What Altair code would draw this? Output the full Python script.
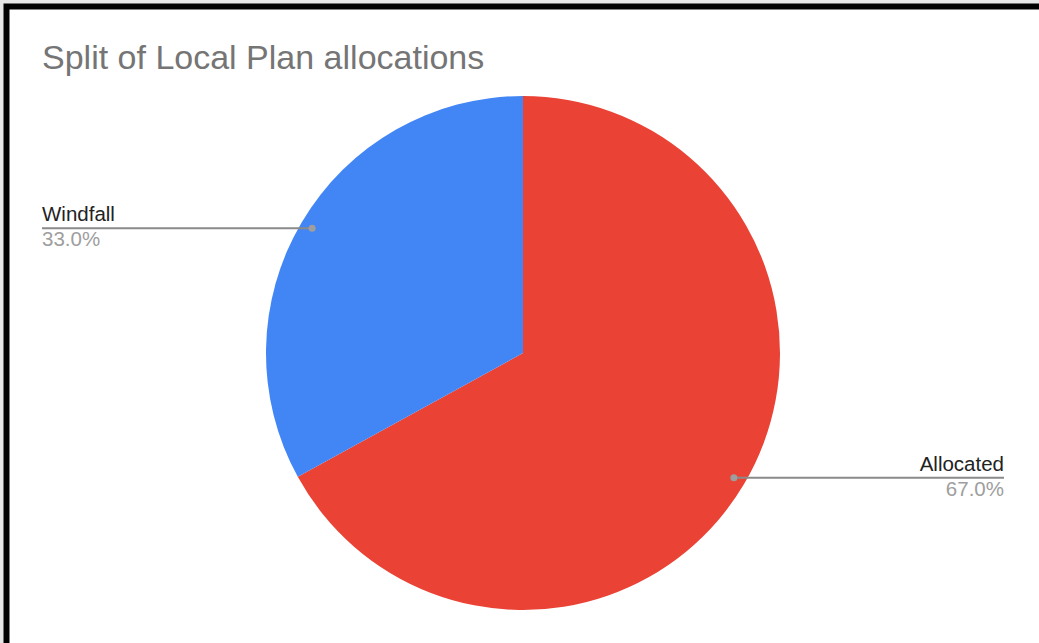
import altair as alt
import pandas as pd

# ---- data ----
labels = ["Allocated", "Windfall"]
values = [67.0, 33.0]
slice_order = [0, 1]
colors = ["#EA4335", "#4285F4"]
title_text = "Split of Local Plan allocations"

df = pd.DataFrame({"label": labels, "value": values, "order": slice_order})

# ---- layout ----
W, H = 1039, 643
CX, CY, R = 523, 353, 257
DOT_R = 245
LEFT_X, RIGHT_X = 42, 1004
FONT = "Liberation Sans"

frame = alt.Chart(pd.DataFrame({"k": [0]})).mark_rect(
    fill="white", stroke="black", strokeWidth=6
).encode(
    x=alt.value(6.5), x2=alt.value(1060), y=alt.value(6.5), y2=alt.value(700)
)

title = alt.Chart(pd.DataFrame({"t": [title_text]})).mark_text(
    align="left", baseline="alphabetic", font=FONT, fontSize=34, color="#757575"
).encode(x=alt.value(42), y=alt.value(69), text="t:N")

pie = alt.Chart(df).mark_arc(radius=R).encode(
    theta=alt.Theta("value:Q", stack=True),
    color=alt.Color("label:N", scale=alt.Scale(domain=labels, range=colors), legend=None),
    order=alt.Order("order:Q"),
    x=alt.value(CX),
    y=alt.value(CY),
)

base = alt.Chart(df).transform_joinaggregate(
    total="sum(value)"
).transform_window(
    cum="sum(value)", sort=[alt.SortField("order")], frame=[None, 0]
).transform_calculate(
    mid="(datum.cum - datum.value / 2) / datum.total * 2 * PI",
).transform_calculate(
    px=f"{CX} + {DOT_R} * sin(datum.mid)",
    py=f"{CY} - {DOT_R} * cos(datum.mid)",
    side="sin(datum.mid) < 0 ? 'left' : 'right'",
    ex=f"sin(datum.mid) < 0 ? {LEFT_X} : {RIGHT_X}",
    pct="format(datum.value / datum.total, '.1%')",
).transform_calculate(
    ty="datum.py - 7",
    py2="datum.py + 18",
)

lines = base.mark_rule(color="#8a8a8a", strokeWidth=2).encode(
    x=alt.X("px:Q", scale=None), x2="ex:Q", y=alt.Y("py:Q", scale=None)
)
dots = base.mark_circle(size=50, color="#9e9e9e", opacity=1).encode(
    x=alt.X("px:Q", scale=None), y=alt.Y("py:Q", scale=None)
)

def side_text(side, align):
    b = base.transform_filter(f"datum.side == '{side}'")
    name = b.mark_text(align=align, baseline="alphabetic", font=FONT, fontSize=20.5, color="#222222").encode(
        x=alt.X("ex:Q", scale=None), y=alt.Y("ty:Q", scale=None), text="label:N"
    )
    pct = b.mark_text(align=align, baseline="alphabetic", font=FONT, fontSize=20.5, color="#9e9e9e").encode(
        x=alt.X("ex:Q", scale=None), y=alt.Y("py2:Q", scale=None), text="pct:N"
    )
    return name + pct

chart = alt.layer(
    frame, title, pie, lines, dots, side_text("left", "left"), side_text("right", "right")
).properties(
    width=W, height=H, padding=0, autosize=alt.AutoSizeParams(type="none"), background="#e6e6e6"
).configure_view(stroke=None)

chart.save("out.html", embed_options={"renderer": "svg", "actions": False})
